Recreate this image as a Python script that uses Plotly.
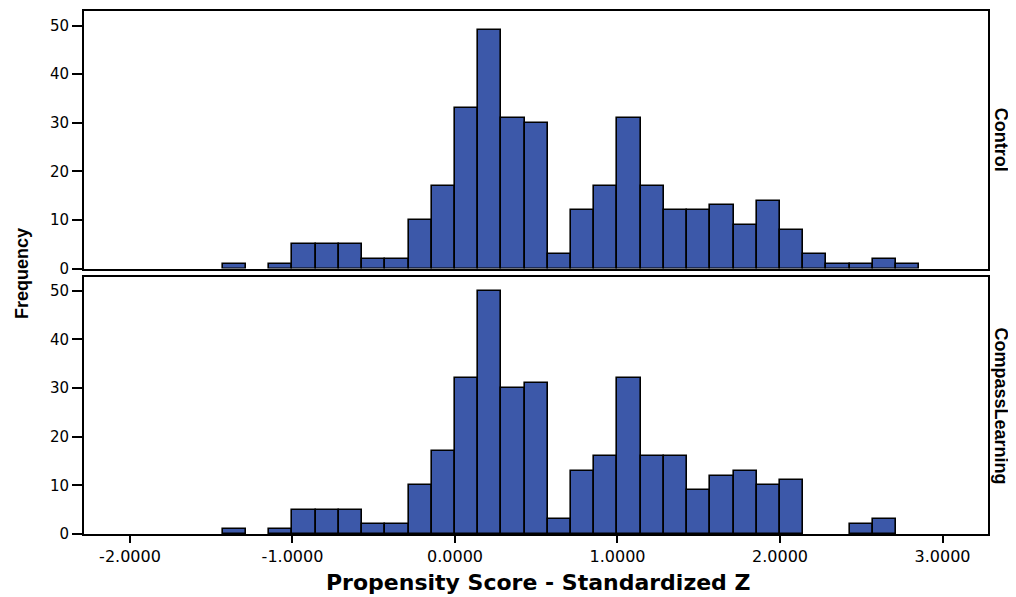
import plotly.graph_objects as go
from plotly.subplots import make_subplots

# ---- data ----
bin_width = 1 / 7
first_bin_left = -10 / 7
control_counts = [1, 0, 1, 5, 5, 5, 2, 2, 10, 17, 33, 49, 31, 30, 3, 12, 17, 31, 17, 12,
                  12, 13, 9, 14, 8, 3, 1, 1, 2, 1]
compass_counts = [1, 0, 1, 5, 5, 5, 2, 2, 10, 17, 32, 50, 30, 31, 3, 13, 16, 32, 16, 16,
                  9, 12, 13, 10, 11, 0, 0, 2, 3, 0]
panel_labels = ["Control", "CompassLearning"]
x_tickvals = [-2, -1, 0, 1, 2, 3]
x_ticktext = ["-2.0000", "-1.0000", "0.0000", "1.0000", "2.0000", "3.0000"]
y_tickvals = [0, 10, 20, 30, 40, 50]
x_title = "Propensity Score - Standardized Z"
y_title = "Frequency"

BAR_COLOR = "#3C58A9"
FONT = "DejaVu Sans, Liberation Sans, Arial, sans-serif"
BOLD = "Liberation Sans, Arial, sans-serif"

fig = make_subplots(rows=2, cols=1, shared_xaxes=True, vertical_spacing=0.016)

for row, counts in ((1, control_counts), (2, compass_counts)):
    xs, ys = [], []
    for i, c in enumerate(counts):
        if c > 0:
            xs.append(first_bin_left + (i + 0.5) * bin_width)
            ys.append(c)
    fig.add_trace(go.Bar(x=xs, y=ys, width=bin_width,
                         marker=dict(color=BAR_COLOR, line=dict(color="black", width=1.6)),
                         showlegend=False, hoverinfo="x+y"), row=row, col=1)

top_dom = [0.5076, 1.0]
bot_dom = [0.0, 0.4914]

axis_common = dict(showline=True, mirror=True, linecolor="black", linewidth=1.7,
                   showgrid=False, zeroline=False)
tick_font = dict(family=FONT, size=15, color="black")
fig.update_layout(
    width=1008, height=589,
    margin=dict(l=76, r=28, t=1, b=63),
    paper_bgcolor="white", plot_bgcolor="white",
    bargap=0,
    font=dict(family=FONT, size=15, color="black"),
    xaxis=dict(range=[-2.283, 3.28], showticklabels=False, ticks="", **axis_common),
    xaxis2=dict(range=[-2.283, 3.28], tickvals=x_tickvals, ticktext=x_ticktext,
                ticks="outside", ticklen=7, tickwidth=1.6, tickcolor="black",
                tickfont=dict(family=FONT, size=16, color="black"), **axis_common),
    yaxis=dict(domain=top_dom, range=[0, 53], tickvals=y_tickvals, ticks="outside",
               ticklen=10, tickwidth=1.6, tickcolor="black", tickfont=tick_font, **axis_common),
    yaxis2=dict(domain=bot_dom, range=[0, 52.8], tickvals=y_tickvals, ticks="outside",
                ticklen=10, tickwidth=1.6, tickcolor="black", tickfont=tick_font, **axis_common),
)

label_font = dict(family=BOLD, size=18, color="black", weight="bold")
annotations = [
    dict(text=panel_labels[0], textangle=90, xref="paper", yref="paper",
         x=1.0, y=(top_dom[0] + top_dom[1]) / 2, xanchor="left", yanchor="middle",
         xshift=1, showarrow=False, font=label_font),
    dict(text=panel_labels[1], textangle=90, xref="paper", yref="paper",
         x=1.0, y=(bot_dom[0] + bot_dom[1]) / 2, xanchor="left", yanchor="middle",
         xshift=1, showarrow=False, font=label_font),
    dict(text=y_title, textangle=-90, xref="paper", yref="paper",
         x=-0.0686, y=0.499, xanchor="center", yanchor="middle",
         showarrow=False, font=label_font),
    dict(text=x_title, xref="paper", yref="paper",
         x=0.502, y=-0.0933, xanchor="center", yanchor="middle",
         showarrow=False, font=dict(family=FONT, size=22, color="black", weight="bold")),
]
fig.update_layout(annotations=annotations)

fig.write_html("out.html")
